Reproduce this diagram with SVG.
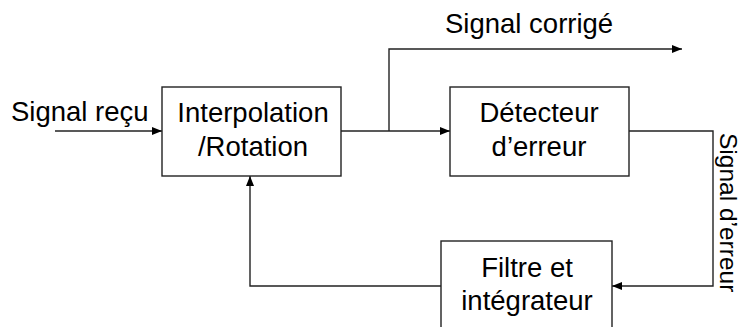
<svg xmlns="http://www.w3.org/2000/svg" width="744" height="327" viewBox="0 0 744 327">
<defs>
<style>
.box{fill:#fff;stroke:#222;stroke-width:1.4}
.ln{fill:none;stroke:#222;stroke-width:1.4}
text{font-family:"Liberation Sans",Arial,sans-serif;font-size:27.5px;fill:#000}
.c{text-anchor:middle}
.v{font-size:24.5px}
</style>
<marker id="ah" viewBox="0 0 10 8" refX="10" refY="4" markerWidth="10" markerHeight="8" markerUnits="userSpaceOnUse" orient="auto">
<path d="M0,0 L10,4 L0,8 Z" fill="#000"/>
</marker>
</defs>
<rect width="744" height="327" fill="#fff"/>
<g id="connectors">
<line class="ln" x1="55" y1="131" x2="162" y2="131" marker-end="url(#ah)"/>
<line class="ln" x1="341" y1="131" x2="450" y2="131" marker-end="url(#ah)"/>
<polyline class="ln" points="389,131 389,49 682,49" marker-end="url(#ah)"/>
<polyline class="ln" points="629,131 713,131 713,286 612,286" marker-end="url(#ah)"/>
<polyline class="ln" points="441,286 250,286 250,176" marker-end="url(#ah)"/>
</g>
<g id="labels">
<text x="11" y="121">Signal reçu</text>
<text x="445" y="33">Signal corrigé</text>
<text class="v" transform="translate(720,133) rotate(90)">Signal d’erreur</text>
</g>
<g id="interp">
<rect class="box" x="162" y="87" width="179" height="89"/>
<text class="c" x="253" y="122">Interpolation</text>
<text class="c" x="253" y="156">/Rotation</text>
</g>
<g id="detect">
<rect class="box" x="450" y="87" width="179" height="89"/>
<text class="c" x="539" y="122">Détecteur</text>
<text class="c" x="539" y="156">d’erreur</text>
</g>
<g id="filtre">
<rect class="box" x="441" y="241" width="171" height="100"/>
<text class="c" x="527" y="277">Filtre et</text>
<text class="c" x="527" y="310">intégrateur</text>
</g>
</svg>
